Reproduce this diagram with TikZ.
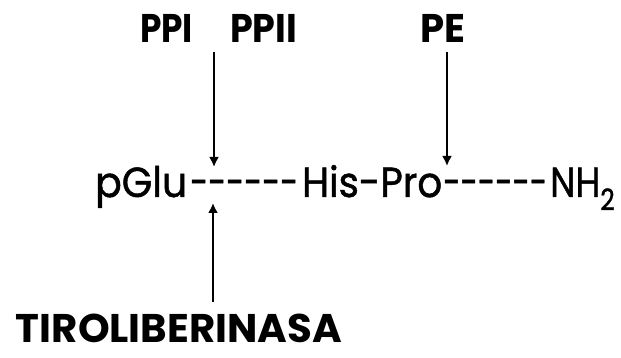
\documentclass[tikz,border=0pt]{standalone}
\usepackage{fontspec}
\setmainfont{Poppins}
\newfontfamily\chainfont{Poppins}[FakeBold=1.2]
\usetikzlibrary{arrows.meta}
% set a text to a given width, keeping its height
\newcommand{\fitto}[2]{\resizebox{#1}{\height}{#2}}
% a run of six single bonds, spread over a given width
\newcommand{\bonds}[1]{\fitto{#1}{-{}-{}-{}-{}-{}-}}
\tikzset{
  x=1pt, y=1pt,
  chain/.style={inner sep=0pt, anchor=base west, font=\fontsize{42}{48}\chainfont},
  enzyme/.style={inner sep=0pt, anchor=base, font=\fontsize{40}{48}\selectfont\bfseries},
  cut/.style={line width=2.4pt, -{Latex[length=10pt,width=10pt]}}
}
\begin{document}
\begin{tikzpicture}
\useasboundingbox (0,0) rectangle (621,358);
% peptide chain
\node[chain] (glu) at (95,161) {\fitto{92pt}{pGlu}};
\node[chain] (d1) at (190,161) {\bonds{108pt}};
\node[chain] (hp) at (302,161) {\fitto{140pt}{His-Pro}};
\node[chain] (d2) at (443,161) {\bonds{104pt}};
\node[chain] (nh) at (550,161) {\fitto{65pt}{NH\textsubscript{2}}};
% enzymes
\node[enzyme] (ppi) at (166.5,315) {\fitto{53pt}{PPI}};
\node[enzyme] (ppii) at (263.5,315) {\fitto{67pt}{PPII}};
\node[enzyme] (pe) at (442.5,315) {\fitto{45pt}{PE}};
\node[enzyme] (trh) at (179,15) {\fitto{326pt}{TIROLIBERINASA}};
% cleavage sites
\coordinate (s1) at (214,306);
\coordinate (t1) at (214,191);
\coordinate (s2) at (447,306);
\coordinate (t2) at (447,192);
\coordinate (s3) at (213,56);
\coordinate (t3) at (213,155);
\draw[cut] (s1) -- (t1);
\draw[cut] (s2) -- (t2);
\draw[cut] (s3) -- (t3);
\end{tikzpicture}
\end{document}
